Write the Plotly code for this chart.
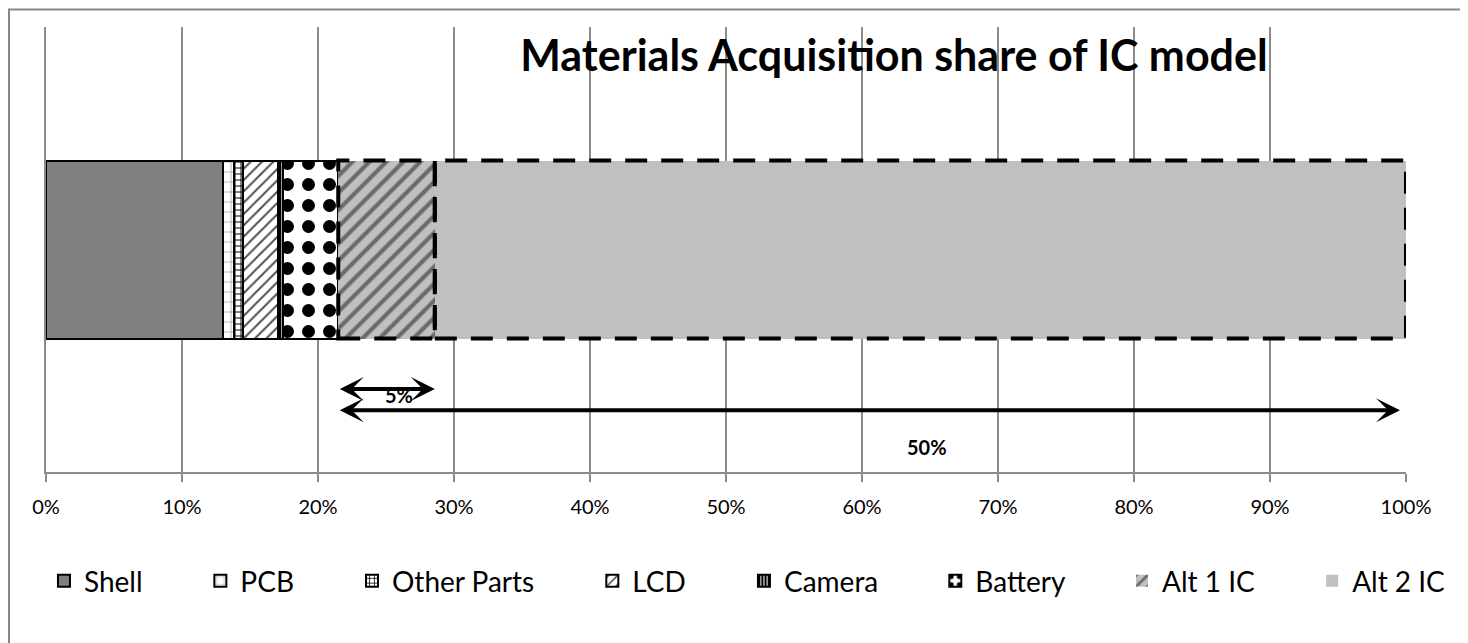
import plotly.graph_objects as go

# ---- data ----
components = ["Shell", "PCB", "Other Parts", "LCD", "Camera", "Battery", "Alt 1 IC", "Alt 2 IC"]
shares = [13.0, 0.85, 0.66, 2.57, 0.37, 4.04, 7.1, 71.41]   # percent of materials acquisition
category = ["IC model"]
tick_values = [0, 10, 20, 30, 40, 50, 60, 70, 80, 90, 100]
tick_labels = [f"{v}%" for v in tick_values]
arrow_labels = ["5%", "50%"]

# ---- styles / layout helpers ----
styles = {
    "Shell":       dict(color="#808080", pattern=dict(shape="")),
    "PCB":         dict(color="white", pattern=dict(shape="+", fgcolor="#a0a0a0", bgcolor="white", size=10, solidity=0.15, fgopacity=1)),
    "Other Parts": dict(color="white", pattern=dict(shape="+", fgcolor="black", bgcolor="white", size=6, solidity=0.3, fgopacity=1)),
    "LCD":         dict(color="white", pattern=dict(shape="/", fgcolor="#505050", bgcolor="white", size=8, solidity=0.25, fgopacity=1)),
    "Camera":      dict(color="white", pattern=dict(shape="|", fgcolor="black", bgcolor="white", size=4, solidity=0.7, fgopacity=1)),
    "Battery":     dict(color="white", pattern=dict(shape=".", fgcolor="black", bgcolor="white", size=21, solidity=0.3, fgopacity=1)),
    "Alt 1 IC":    dict(color="#c0c0c0", pattern=dict(shape="/", fgcolor="#6a6a6a", bgcolor="#c0c0c0", size=12, solidity=0.35, fgopacity=1)),
    "Alt 2 IC":    dict(color="#c0c0c0", pattern=dict(shape="")),
}
dashed = {"Alt 1 IC", "Alt 2 IC"}
# legend box left edges (paper x) so that the entries are spread like the original
legend_x = [-0.0015, 0.1135, 0.2250, 0.4017, 0.5132, 0.6539, 0.7912, 0.9310]
legend_names = ["legend"] + [f"legend{i}" for i in range(2, 9)]

fig = go.Figure()
for k, (name, val) in enumerate(zip(components, shares)):
    st = styles[name]
    fig.add_trace(go.Bar(
        x=[val], y=category, orientation="h", name=name, legend=legend_names[k],
        showlegend=True,
        marker=dict(color=st["color"], pattern=st["pattern"],
                    line=dict(color="black", width=0 if name in dashed else 2)),
        hoverinfo="x+name",
    ))

# cumulative positions
starts = []
acc = 0.0
for v in shares:
    starts.append(acc)
    acc += v
ends = [s + v for s, v in zip(starts, shares)]

BAR_HALF = 0.2
shapes = []
for i, name in enumerate(components):
    if name in dashed:
        shapes.append(dict(type="rect", xref="x", yref="y",
                           x0=starts[i], x1=ends[i], y0=-BAR_HALF, y1=BAR_HALF,
                           line=dict(color="black", width=4, dash="22px,14px")))
# outer chart border
shapes.append(dict(type="rect", xref="paper", yref="paper",
                   x0=-0.0272, x1=1.2, y0=-1.0, y1=1.0393,
                   line=dict(color="#878787", width=2), layer="below"))

i1 = components.index("Alt 1 IC")
i2 = components.index("Alt 2 IC")
annotations = [
    dict(x=ends[i1], y=-0.3135, ax=starts[i1], ay=-0.3135, xref="x", yref="y", axref="x", ayref="y",
         text="", showarrow=True, arrowhead=3, arrowside="end+start", arrowwidth=4, arrowsize=1.0,
         arrowcolor="black", standoff=0, startstandoff=0),
    dict(x=ends[i2], y=-0.361, ax=starts[i1], ay=-0.361, xref="x", yref="y", axref="x", ayref="y",
         text="", showarrow=True, arrowhead=3, arrowside="end+start", arrowwidth=4, arrowsize=1.0,
         arrowcolor="black", standoff=6, startstandoff=0),
    dict(x=(starts[i1] + ends[i1]) / 2, y=-0.328, xref="x", yref="y", text=f"<b>{arrow_labels[0]}</b>",
         showarrow=False, xshift=12, font=dict(size=20, color="black")),
    dict(x=(starts[i1] + ends[i2]) / 2, y=-0.444, xref="x", yref="y", text=f"<b>{arrow_labels[1]}</b>",
         showarrow=False, xshift=55, font=dict(size=20, color="black")),
]

legend_common = dict(orientation="h", xanchor="left", y=-0.245, yanchor="middle",
                     font=dict(size=28), itemwidth=30, bgcolor="rgba(0,0,0,0)")
layout_legends = {}
for ln, lx in zip(legend_names, legend_x):
    layout_legends[ln] = dict(legend_common, x=lx)

fig.update_layout(
    barmode="stack",
    bargap=0.6,
    showlegend=True,
    width=1468, height=643,
    margin=dict(l=38, r=70, t=19, b=179),
    paper_bgcolor="white", plot_bgcolor="white",
    font=dict(family="Lato, Carlito, Calibri, sans-serif", color="black", size=18),
    title=dict(text="<b>Materials Acquisition share of IC model</b>", x=0.6235, xref="paper",
               xanchor="center", y=0.935, yref="paper", yanchor="middle",
               font=dict(size=43, color="black")),
    xaxis=dict(range=[0, 100], tickvals=tick_values, ticktext=tick_labels,
               showgrid=True, gridcolor="#8c8c8c", gridwidth=1.5,
               showline=True, linecolor="#8c8c8c", linewidth=1.5,
               ticks="outside", ticklen=8, tickcolor="#8c8c8c", tickwidth=1.5,
               tickfont=dict(size=20), ticklabelstandoff=8, zeroline=False, fixedrange=True),
    yaxis=dict(range=[-0.5, 0.5], showticklabels=False, showgrid=False, zeroline=False,
               showline=True, linecolor="#8c8c8c", linewidth=1.5, fixedrange=True),
    shapes=shapes,
    annotations=annotations,
    **layout_legends,
)

fig.write_html("out.html")
